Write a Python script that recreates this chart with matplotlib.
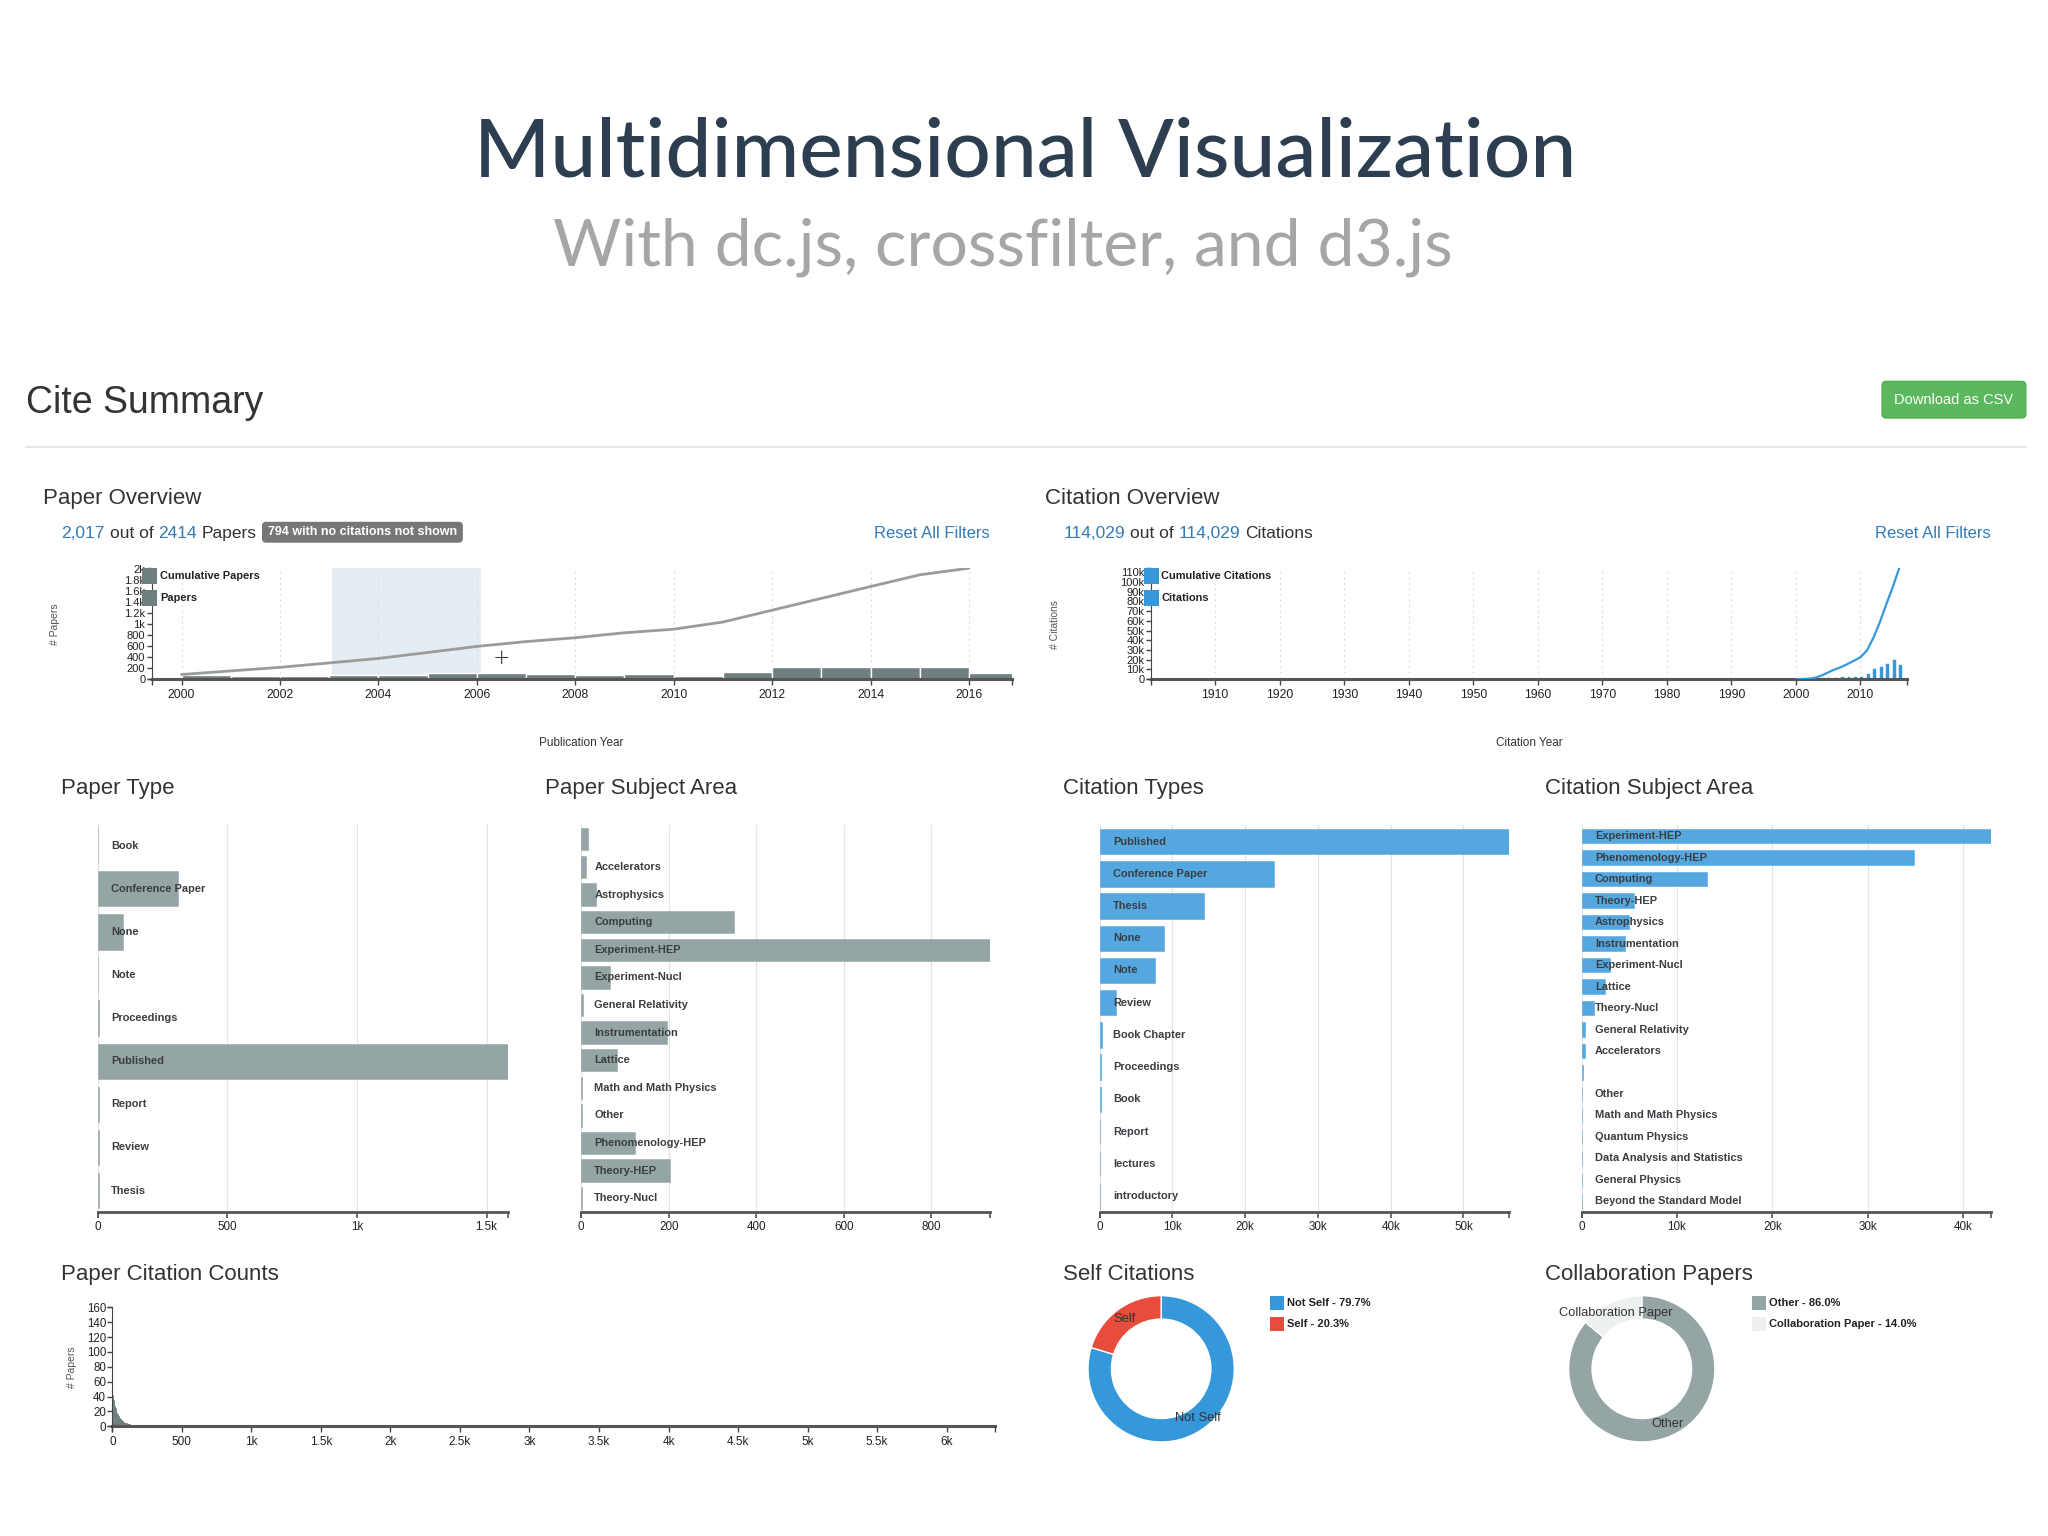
import numpy as np
import matplotlib
matplotlib.use("Agg")
import matplotlib.pyplot as plt
from matplotlib.patches import FancyBboxPatch, Rectangle
from matplotlib.lines import Line2D
from matplotlib.ticker import FuncFormatter

# ---------------- data ----------------
pub_years = list(range(2000, 2017))
papers_per_year = [85, 65, 65, 80, 82, 108, 110, 88, 70, 90, 65, 130, 215, 215, 215, 213, 121]
brush_years = [2003.05, 2006.08]

cite_years = list(range(2000, 2017))
citations_per_year = [0, 100, 300, 500, 800, 1400, 1700, 2400, 2400, 2400, 2400,
                      5500, 10600, 13000, 15800, 19500, 14700]
cumulative_citations = [0, 200, 500, 1500, 3800, 7000, 10000, 12500, 15600, 19000, 22600,
                        29500, 42500, 58500, 77000, 94500, 114029]

paper_types = ["Book", "Conference Paper", "None", "Note", "Proceedings",
               "Published", "Report", "Review", "Thesis"]
paper_type_counts = [1, 310, 98, 1, 3, 1583, 3, 4, 4]

paper_subjects = ["", "Accelerators", "Astrophysics", "Computing", "Experiment-HEP",
                  "Experiment-Nucl", "General Relativity", "Instrumentation", "Lattice",
                  "Math and Math Physics", "Other", "Phenomenology-HEP", "Theory-HEP",
                  "Theory-Nucl"]
paper_subject_counts = [15, 11, 33, 350, 934, 66, 3, 196, 82, 2, 2, 123, 203, 2]

citation_types = ["Published", "Conference Paper", "Thesis", "None", "Note", "Review",
                  "Book Chapter", "Proceedings", "Book", "Report", "lectures", "introductory"]
citation_type_counts = [56200, 24000, 14300, 8800, 7600, 2300, 320, 180, 140, 90, 90, 9]

citation_subjects = ["Experiment-HEP", "Phenomenology-HEP", "Computing", "Theory-HEP",
                     "Astrophysics", "Instrumentation", "Experiment-Nucl", "Lattice",
                     "Theory-Nucl", "General Relativity", "Accelerators", "", "Other",
                     "Math and Math Physics", "Quantum Physics", "Data Analysis and Statistics",
                     "General Physics", "Beyond the Standard Model"]
citation_subject_counts = [42870, 34860, 13110, 5450, 4930, 4550, 3000, 2480, 1330,
                           380, 310, 170, 70, 60, 30, 20, 10, 5]

cite_count_bin_start = [0, 5, 10, 15, 20, 25, 30, 35, 40, 45, 50, 55, 60, 65, 70, 75, 80, 85,
                        90, 95, 100, 105, 110, 115, 120, 130, 140, 150, 165, 180, 200, 220,
                        250, 270, 300, 340, 380, 420, 480, 560, 650, 760, 790, 820, 900,
                        1050, 1250, 1500, 1750, 2300]
papers_in_bin = [42, 36, 31, 27, 24, 21, 18, 16, 14, 12, 11, 10, 9, 8, 7, 6, 6, 5, 5, 4,
                 4, 3, 3, 3, 3, 2, 2, 2, 2, 2, 1, 1, 1, 1, 1, 1, 1, 1, 1, 1,
                 1, 1, 1, 1, 1, 1, 1, 1, 1, 1]
cite_count_max = 6350

self_labels = ["Not Self", "Self"]
self_share = [79.7, 20.3]
collab_labels = ["Other", "Collaboration Paper"]
collab_share = [86.0, 14.0]

papers_shown, papers_total, papers_no_cites = "2,017", "2414", 794
cites_shown, cites_total = "114,029", "114,029"

# ---------------- style ----------------
plt.rcParams['font.family'] = ['Liberation Sans', 'DejaVu Sans']
GRAY_BAR = '#6f7e7f'
GRAY_ROW = '#95a5a6'
BLUE = '#3498db'
BLUE_ROW = '#55a7e0'
RED = '#e74c3c'
LIGHT = '#ecf0f1'
TXT = '#333333'
LINK = '#337ab7'

FIG_W, FIG_H = 2048, 1536
fig = plt.figure(figsize=(FIG_W / 100, FIG_H / 100), dpi=100, facecolor='white')
R = fig.canvas.get_renderer()

W, H = 1568.0, 1176.0          # layout reference grid
SC = FIG_W / W


def fx(x):
    return x / W


def fy(y):
    return 1 - y / H


def rect(x0, y0, x1, y1):
    return [x0 / W, 1 - y1 / H, (x1 - x0) / W, (y1 - y0) / H]


def tw(s, size, weight='normal', family=None):
    kw = {} if family is None else {'family': family}
    t = fig.text(0, 0, s, fontsize=size, fontweight=weight, **kw)
    w = t.get_window_extent(R).width
    t.remove()
    return w


def fit_text(x, y, s, target_w, size0, **kw):
    t = fig.text(fx(x), fy(y), s, fontsize=size0, **kw)
    w = t.get_window_extent(R).width
    t.set_fontsize(size0 * target_w * SC / w)
    return t


def seq_text(x, y, parts, size):
    xp = x * SC
    sp = tw("x x", size) - tw("xx", size)
    for s, color, weight, gap in parts:
        t = fig.text(xp / FIG_W, fy(y), s, fontsize=size, color=color, fontweight=weight,
                     va='baseline', ha='left')
        xp = t.get_window_extent(R).x1 + gap * sp
    return xp / SC


def kfmt(v, pos=None):
    if v == 0:
        return "0"
    if abs(v) >= 1000:
        return f"{v / 1000:g}k"
    return f"{v:g}"


def end_ticks(ax, axis='x', color='#444', size=4.3, lw=1.0):
    if axis == 'x':
        ax.plot([0, 1], [0, 0], linestyle='none', marker=3, markersize=size,
                markeredgewidth=lw, color=color, transform=ax.transAxes, clip_on=False, zorder=5)
    else:
        ax.plot([0, 0], [0, 1], linestyle='none', marker=0, markersize=size,
                markeredgewidth=lw, color=color, transform=ax.transAxes, clip_on=False, zorder=5)


def panel_title(x, y, s):
    fig.text(fx(x), fy(y + 6), s, fontsize=16, color=TXT, va='baseline', ha='left')


# ---------------- header ----------------
fit_text(785, 135, "Multidimensional Visualization", 844, 50, ha='center', va='baseline',
         color='#2c3e50', family=['Lato', 'DejaVu Sans'], fontweight='medium')
fit_text(767.5, 203, "With dc.js, crossfilter, and d3.js", 689, 40, ha='center',
         va='baseline', color='#a6a6a6', family=['Lato', 'DejaVu Sans'])

fig.text(fx(20), fy(316), "Cite Summary", fontsize=27, color=TXT, va='baseline')
bx0, by0, bx1, by1 = 1441, 292, 1551, 320
fig.add_artist(FancyBboxPatch((fx(bx0), fy(by1)), fx(bx1) - fx(bx0), (by1 - by0) / H,
                              boxstyle='round,pad=0,rounding_size=0.002',
                              mutation_aspect=FIG_W / FIG_H, transform=fig.transFigure,
                              facecolor='#5cb85c', edgecolor='#4cae4c', lw=1))
fig.text(fx((bx0 + bx1) / 2), fy((by0 + by1) / 2), "Download as CSV", ha='center',
         va='center', color='white', fontsize=10.5)
fig.add_artist(Line2D([fx(20), fx(1551)], [fy(342), fy(342)], color='#e6e6e6', lw=1.5))

# ---------------- Paper Overview ----------------
panel_title(33, 380, "Paper Overview")
end_x = seq_text(47, 412, [(papers_shown, LINK, 'normal', 1), ("out of", TXT, 'normal', 1),
                           (papers_total, LINK, 'normal', 1), ("Papers", TXT, 'normal', 0)], 12.5)
badge_txt = f"{papers_no_cites} with no citations not shown"
bw = tw(badge_txt, 9, 'bold') / SC + 9
bl = end_x + 4
fig.add_artist(FancyBboxPatch((fx(bl), fy(415.5)), bw / W, 16 / H,
                              boxstyle='round,pad=0,rounding_size=0.002',
                              mutation_aspect=FIG_W / FIG_H, transform=fig.transFigure,
                              facecolor='#777777', edgecolor='none'))
fig.text(fx(bl + bw / 2), fy(407.5), badge_txt, ha='center', va='center', color='white',
         fontsize=9, fontweight='bold')
fig.text(fx(758), fy(412), "Reset All Filters", ha='right', va='baseline', color=LINK,
         fontsize=12)

ax1 = fig.add_axes(rect(116, 435, 775, 520))
cum_papers = np.cumsum(papers_per_year)
ax1.set_xlim(1999.39, 2016.88)
ax1.set_ylim(0, cum_papers[-1])
ax1.axvspan(brush_years[0], brush_years[1], color='#dbe8ef', alpha=0.75, zorder=0, lw=0)
ax1.bar(pub_years, papers_per_year, width=1.0, align='edge', color=GRAY_BAR,
        edgecolor='white', linewidth=1, zorder=2)
ax1.plot(pub_years, cum_papers, color='#9b9b9b', lw=2, zorder=3, solid_capstyle='round')
ax1.set_xticks(list(range(2000, 2017, 2)))
ax1.set_yticks(list(range(0, 2001, 200)))
ax1.yaxis.set_major_formatter(FuncFormatter(kfmt))
ax1.grid(axis='x', color='#dddddd', linestyle=(0, (2, 3)), lw=0.8, zorder=0)
for s in ['top', 'right']:
    ax1.spines[s].set_visible(False)
ax1.spines['left'].set_color('#444')
ax1.spines['bottom'].set_color('#555')
ax1.spines['bottom'].set_linewidth(2.2)
ax1.tick_params(axis='x', length=4.3, width=1, color='#444', labelsize=8.8, pad=2.5,
                labelcolor='#222')
ax1.tick_params(axis='y', length=3.5, width=1, color='#444', labelsize=8, pad=1,
                labelcolor='#222')
end_ticks(ax1, 'x')
end_ticks(ax1, 'y', size=3.5)
ax1.set_facecolor('none')
fig.text(fx(445), fy(569), "Publication Year", ha='center', va='center', fontsize=8.5,
         color=TXT)
fig.text(fx(42), fy(478), "# Papers", ha='center', va='center', fontsize=7.5, color='#555',
         rotation=90)
for i, lab in enumerate(["Cumulative Papers", "Papers"]):
    y0 = 435 + i * 17
    fig.add_artist(Rectangle((fx(109), fy(y0 + 12)), 11 / W, 12 / H, transform=fig.transFigure,
                             facecolor=GRAY_BAR, edgecolor='none', zorder=6))
    fig.text(fx(122.5), fy(y0 + 6), lab, ha='left', va='center', fontsize=7.9,
             fontweight='bold', color='#222', zorder=6)
fig.text(fx(384), fy(504), "+", ha='center', va='center', fontsize=15, color='#111',
         fontweight='light', family=['DejaVu Sans'])

# ---------------- Citation Overview ----------------
panel_title(800, 380, "Citation Overview")
seq_text(814, 412, [(cites_shown, LINK, 'normal', 1), ("out of", TXT, 'normal', 1),
                    (cites_total, LINK, 'normal', 1), ("Citations", TXT, 'normal', 0)], 12.5)
fig.text(fx(1524), fy(412), "Reset All Filters", ha='right', va='baseline', color=LINK,
         fontsize=12)

ax2 = fig.add_axes(rect(881, 435, 1460, 520))
ax2.set_xlim(1900, 2017.2)
ax2.set_ylim(0, max(cumulative_citations))
ax2.bar(cite_years, citations_per_year, width=0.45, align='edge', color=BLUE,
        edgecolor=BLUE, linewidth=0.3, zorder=2)
ax2.plot(cite_years, cumulative_citations, color=BLUE, lw=1.6, zorder=3)
ax2.set_xticks(list(range(1910, 2011, 10)))
ax2.set_yticks(list(range(0, 110001, 10000)))
ax2.yaxis.set_major_formatter(FuncFormatter(kfmt))
ax2.grid(axis='x', color='#dddddd', linestyle=(0, (2, 3)), lw=0.8, zorder=0)
for s in ['top', 'right']:
    ax2.spines[s].set_visible(False)
ax2.spines['left'].set_color('#444')
ax2.spines['bottom'].set_color('#555')
ax2.spines['bottom'].set_linewidth(2.2)
ax2.tick_params(axis='x', length=4.3, width=1, color='#444', labelsize=8.8, pad=2.5,
                labelcolor='#222')
ax2.tick_params(axis='y', length=3.5, width=1, color='#444', labelsize=8, pad=1,
                labelcolor='#222')
end_ticks(ax2, 'x')
end_ticks(ax2, 'y', size=3.5)
fig.text(fx(1171), fy(569), "Citation Year", ha='center', va='center', fontsize=8.5,
         color=TXT)
fig.text(fx(808), fy(478), "# Citations", ha='center', va='center', fontsize=7.5,
         color='#555', rotation=90)
for i, lab in enumerate(["Cumulative Citations", "Citations"]):
    y0 = 435 + i * 17
    fig.add_artist(Rectangle((fx(876), fy(y0 + 12)), 11 / W, 12 / H, transform=fig.transFigure,
                             facecolor=BLUE, edgecolor='none', zorder=6))
    fig.text(fx(889), fy(y0 + 6), lab, ha='left', va='center', fontsize=7.9,
             fontweight='bold', color='#222', zorder=6)


# ---------------- row charts ----------------
def row_chart(r, labels, values, color, ticks, frac, title, tx):
    panel_title(tx, 602, title)
    ax = fig.add_axes(rect(*r))
    n = len(labels)
    ys = np.arange(n)
    ax.barh(ys, values, height=frac, color=color, edgecolor=color, linewidth=0.4, zorder=2)
    ax.set_ylim(n - 0.5, -0.5)
    ax.set_xlim(0, max(values))
    for i, lab in enumerate(labels):
        ax.annotate(lab, xy=(0, i), xycoords='data', xytext=(9.4, 0),
                    textcoords='offset points', va='center', ha='left', fontsize=7.9,
                    fontweight='bold', color='#3a3e42', zorder=4)
    ax.set_xticks(ticks)
    ax.xaxis.set_major_formatter(FuncFormatter(kfmt))
    ax.set_yticks([])
    for s in ['top', 'right', 'left']:
        ax.spines[s].set_visible(False)
    ax.spines['bottom'].set_color('#555')
    ax.spines['bottom'].set_linewidth(2)
    ax.grid(axis='x', color='#e4e4e4', lw=0.9, zorder=0)
    ax.tick_params(axis='x', length=4.3, width=1.2, color='#555', labelsize=8.4, pad=2,
                   labelcolor='#222')
    end_ticks(ax, 'x', color='#555', lw=1.2)
    return ax


row_chart((75, 631, 389, 928), paper_types, paper_type_counts, GRAY_ROW,
          [0, 500, 1000, 1500], 0.82, "Paper Type", 47)
row_chart((445, 632, 758, 928), paper_subjects, paper_subject_counts, GRAY_ROW,
          [0, 200, 400, 600, 800], 0.81, "Paper Subject Area", 417)
row_chart((842, 632, 1155, 928), citation_types, citation_type_counts, BLUE_ROW,
          [0, 10000, 20000, 30000, 40000, 50000], 0.79, "Citation Types", 814)
row_chart((1211, 632, 1524, 928), citation_subjects, citation_subject_counts, BLUE_ROW,
          [0, 10000, 20000, 30000, 40000], 0.67, "Citation Subject Area", 1183)

# ---------------- Paper Citation Counts ----------------
fig.text(fx(47), fy(980), "Paper Citation Counts", fontsize=16, color=TXT, va='baseline')
ax3 = fig.add_axes(rect(86, 1001, 762, 1092))
ax3.bar(cite_count_bin_start, papers_in_bin, width=5, align='edge', color=GRAY_BAR,
        edgecolor=GRAY_BAR, linewidth=0.5, zorder=2)
ax3.set_xlim(0, cite_count_max)
ax3.set_ylim(0, 160)
ax3.set_xticks(list(range(0, 6001, 500)))
ax3.set_yticks(list(range(0, 161, 20)))
ax3.xaxis.set_major_formatter(FuncFormatter(kfmt))
for s in ['top', 'right']:
    ax3.spines[s].set_visible(False)
ax3.spines['left'].set_color('#444')
ax3.spines['bottom'].set_color('#555')
ax3.spines['bottom'].set_linewidth(2.2)
ax3.tick_params(axis='x', length=4.3, width=1, color='#444', labelsize=8.5, pad=2.5,
                labelcolor='#222')
ax3.tick_params(axis='y', length=3.5, width=1, color='#444', labelsize=8.3, pad=1,
                labelcolor='#222')
end_ticks(ax3, 'x')
end_ticks(ax3, 'y', size=3.5)
fig.text(fx(55), fy(1047), "# Papers", ha='center', va='center', fontsize=7.5, color='#555',
         rotation=90)


# ---------------- donuts ----------------
def donut(cx, cy, r, labels, shares, colors, title, tx, lx):
    fig.text(fx(tx), fy(980), title, fontsize=16, color=TXT, va='baseline')
    ax = fig.add_axes(rect(cx - r, cy - r, cx + r, cy + r))
    wedges, texts = ax.pie(shares, colors=colors, startangle=90, counterclock=False,
                           radius=1, labels=labels, labeldistance=0.84,
                           wedgeprops=dict(width=0.32, edgecolor='white', linewidth=1),
                           textprops=dict(fontsize=9.3, color='#333'))
    for t in texts:
        t.set_ha('center')
        t.set_va('center')
    ax.set_xlim(-1, 1)
    ax.set_ylim(-1, 1)
    ax.set_aspect('equal')
    ax.axis('off')
    for i, (lab, sh, c) in enumerate(zip(labels, shares, colors)):
        y0 = 992 + i * 16
        fig.add_artist(Rectangle((fx(lx), fy(y0 + 11)), 11 / W, 11 / H,
                                 transform=fig.transFigure, facecolor=c, edgecolor='none'))
        fig.text(fx(lx + 13.5), fy(y0 + 5.5), f"{lab} - {sh:.1f}%", ha='left', va='center',
                 fontsize=8, fontweight='bold', color='#222')


donut(889, 1048, 56, self_labels, self_share, [BLUE, RED], "Self Citations", 814, 972)
donut(1257, 1048, 56, collab_labels, collab_share, [GRAY_ROW, LIGHT], "Collaboration Papers",
      1183, 1341)

fig.savefig("out.png", dpi=100, facecolor='white')
